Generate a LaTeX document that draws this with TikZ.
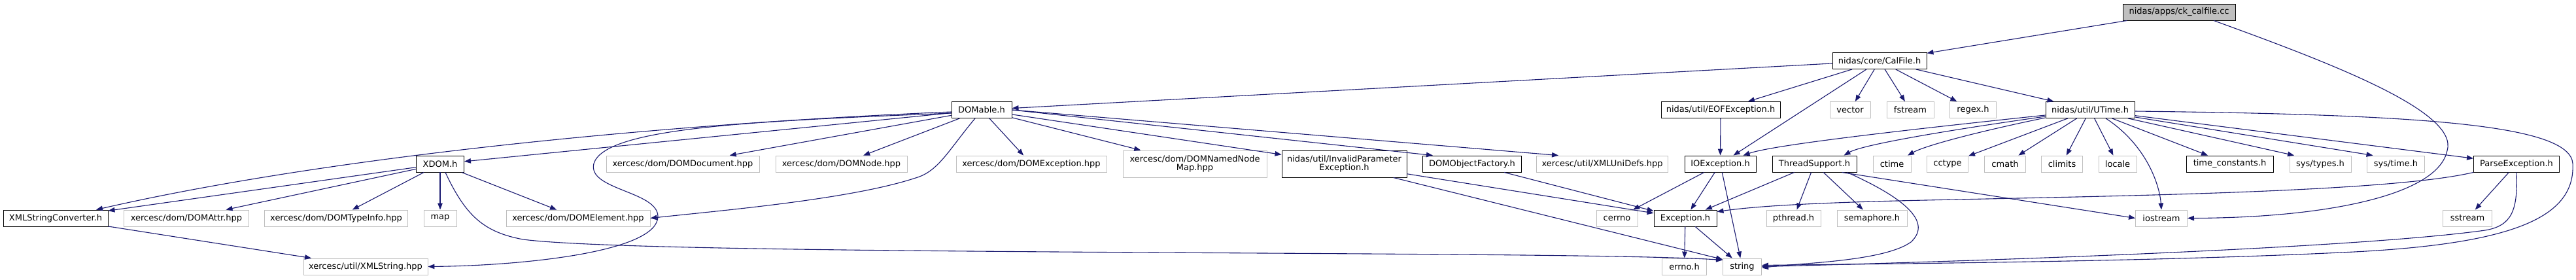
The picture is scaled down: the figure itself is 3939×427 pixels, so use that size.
\documentclass[tikz,border=0pt]{standalone}
\usepackage{fontspec}
\setmainfont{DejaVu Sans}
\usetikzlibrary{arrows.meta}
\definecolor{edgec}{HTML}{191970}
\definecolor{greyc}{HTML}{BFBFBF}
\tikzset{
  basebox/.style={line width=0.9bp, fill=white, minimum height=25bp, inner sep=0pt,
    font=\fontsize{13bp}{13.5bp}\selectfont, align=center},
  docbox/.style={basebox, draw=black},
  sysbox/.style={basebox, draw=greyc},
  rootbox/.style={basebox, draw=black, fill=greyc},
  edge/.style={draw=edgec, line width=1.1bp, -{Triangle[length=10bp,width=7.5bp]}},
}
\begin{document}
\begin{tikzpicture}[x=1bp,y=-1bp]
\useasboundingbox (0,0) rectangle (3939,427);
% row 0
\node[rootbox, minimum width=172bp] (ck) at (3332,18.5) {nidas/apps/ck\_calfile.cc};
% row 1
\node[docbox, minimum width=144bp] (calfile) at (2874,93) {nidas/core/CalFile.h};
% row 2
\node[docbox, minimum width=92bp] (domable) at (1501,168) {DOMable.h};
\node[docbox, minimum width=182bp] (eof) at (2631,168) {nidas/util/EOFException.h};
\node[sysbox, minimum width=62bp] (vector) at (2829,168) {vector};
\node[sysbox, minimum width=72bp] (fstream) at (2921,168) {fstream};
\node[sysbox, minimum width=71bp] (regex) at (3017,168) {regex.h};
\node[docbox, minimum width=136bp] (utime) at (3196,168) {nidas/util/UTime.h};
% row 3
\node[docbox, minimum width=73bp] (xdom) at (673,250.5) {XDOM.h};
\node[sysbox, minimum width=234bp] (domdoc) at (1044,250.5) {xercesc/dom/DOMDocument.hpp};
\node[sysbox, minimum width=201bp] (domnode) at (1286.5,250.5) {xercesc/dom/DOMNode.hpp};
\node[sysbox, minimum width=230bp] (domexc) at (1577,250.5) {xercesc/dom/DOMException.hpp};
\node[sysbox, minimum width=220bp, minimum height=41bp] (domnnm) at (1827,250.5) {xercesc/dom/DOMNamedNode\\Map.hpp};
\node[docbox, minimum width=191bp, minimum height=41bp] (invparam) at (2055.5,250.5) {nidas/util/InvalidParameter\\Exception.h};
\node[docbox, minimum width=151bp] (domobj) at (2251,250.5) {DOMObjectFactory.h};
\node[sysbox, minimum width=201bp] (xmluni) at (2450,250.5) {xercesc/util/XMLUniDefs.hpp};
\node[docbox, minimum width=109bp] (ioexc) at (2630.5,250.5) {IOException.h};
\node[docbox, minimum width=129bp] (thread) at (2774.5,250.5) {ThreadSupport.h};
\node[sysbox, minimum width=58bp] (ctime) at (2893,250.5) {ctime};
\node[sysbox, minimum width=63bp] (cctype) at (2978,250.5) {cctype};
\node[sysbox, minimum width=63bp] (cmath) at (3066,250.5) {cmath};
\node[sysbox, minimum width=63bp] (climits) at (3153,250.5) {climits};
\node[sysbox, minimum width=58bp] (locale) at (3238,250.5) {locale};
\node[docbox, minimum width=133bp] (timec) at (3409.5,250.5) {time\_constants.h};
\node[sysbox, minimum width=94bp] (systypes) at (3548,250.5) {sys/types.h};
\node[sysbox, minimum width=88bp] (systime) at (3663.5,250.5) {sys/time.h};
\node[docbox, minimum width=131bp] (parse) at (3848,250.5) {ParseException.h};
% row 4
\node[docbox, minimum width=160bp] (xmlsc) at (85,333.5) {XMLStringConverter.h};
\node[sysbox, minimum width=191bp] (domattr) at (285,333.5) {xercesc/dom/DOMAttr.hpp};
\node[sysbox, minimum width=219bp] (domtype) at (514,333.5) {xercesc/dom/DOMTypeInfo.hpp};
\node[sysbox, minimum width=50bp] (map) at (673,333.5) {map};
\node[sysbox, minimum width=220bp] (domelem) at (884,333.5) {xercesc/dom/DOMElement.hpp};
\node[sysbox, minimum width=63bp] (cerrno) at (2472.5,333.5) {cerrno};
\node[docbox, minimum width=96bp] (exc) at (2577,333.5) {Exception.h};
\node[sysbox, minimum width=83bp] (pthread) at (2742.5,333.5) {pthread.h};
\node[sysbox, minimum width=107bp] (sema) at (2862.5,333.5) {semaphore.h};
\node[sysbox, minimum width=79bp] (iostream) at (3305,333.5) {iostream};
\node[sysbox, minimum width=75bp] (sstream) at (3773,333.5) {sstream};
% row 5
\node[sysbox, minimum width=190bp] (xmlstr) at (559,407.5) {xercesc/util/XMLString.hpp};
\node[sysbox, minimum width=68bp] (errno) at (2575.5,407.5) {errno.h};
\node[sysbox, minimum width=59bp] (string) at (2664,407.5) {string};

% ck_calfile.cc
\draw[edge] (ck) -- (calfile);
\draw[edge] ([xshift=53bp]ck.south) .. controls (3560,95) and (3760,170) .. (3742,230)
  .. controls (3728,300) and (3550,333) .. (iostream.east);
% CalFile.h
\draw[edge] (calfile) -- (domable);
\draw[edge] (calfile) -- (eof);
\draw[edge] (calfile) -- (ioexc);
\draw[edge] (calfile) -- (vector);
\draw[edge] (calfile) -- (fstream);
\draw[edge] (calfile) -- (regex);
\draw[edge] (calfile) -- (utime);
% EOFException
\draw[edge] (eof) -- (ioexc);
% DOMable.h
\draw[edge] ([yshift=-3bp]domable.west) .. controls (1000,190) and (500,240) .. ([xshift=62bp]xmlsc.north);
\draw[edge] ([yshift=-5bp]domable.west) .. controls (1150,185) and (925,195) .. (908,250)
  .. controls (898,290) and (1004,292) .. (1006,330)
  .. controls (1008,385) and (800,406) .. (xmlstr.east);
\draw[edge] (domable) -- (xdom);
\draw[edge] (domable) -- (domdoc);
\draw[edge] (domable) -- (domnode);
\draw[edge] ([xshift=-10bp]domable.south) .. controls (1450,230) and (1435,262) .. (1400,272)
  .. controls (1300,305) and (1100,322) .. (domelem.east);
\draw[edge] (domable) -- (domexc);
\draw[edge] (domable) -- (domnnm);
\draw[edge] (domable) -- (invparam);
\draw[edge] (domable.east) -- ([xshift=-60bp]domobj.north);
\draw[edge] (domable.east) -- ([xshift=-67bp]xmluni.north);
% XDOM.h
\draw[edge] (xdom) -- (xmlsc);
\draw[edge] (xdom) -- (domattr);
\draw[edge] (xdom) -- (domtype);
\draw[edge] (xdom) -- (map);
\draw[edge] (xdom) -- (domelem);
\draw[edge] ([xshift=8bp]xdom.south) .. controls (712,330) and (740,355) .. (800,366)
  .. controls (1000,392) and (2400,382) .. ([yshift=10bp]string.west);
% XMLStringConverter.h
\draw[edge] (xmlsc) -- (xmlstr);
% InvalidParameterException.h
\draw[edge] (invparam) -- (exc);
\draw[edge] ([xshift=75bp]invparam.south) -- ([yshift=-2bp]string.north west);
% DOMObjectFactory.h
\draw[edge] ([xshift=49bp]domobj.south) -- ([yshift=-2bp]exc.north west);
% IOException.h
\draw[edge] (ioexc) -- (cerrno);
\draw[edge] (ioexc) -- (exc);
\draw[edge] (ioexc) -- (string);
% ThreadSupport.h
\draw[edge] (thread) -- (exc);
\draw[edge] (thread) -- (pthread);
\draw[edge] (thread) -- (sema);
\draw[edge] ([xshift=50bp]thread.south) .. controls (2895,295) and (2960,335) .. (2922,370)
  .. controls (2880,400) and (2750,402) .. ([yshift=-2bp]string.east);
\draw[edge] ([xshift=42bp]thread.south) -- (iostream.west);
% Exception.h
\draw[edge] (exc) -- (errno);
\draw[edge] (exc) -- (string);
% UTime.h
\draw[edge] ([yshift=-8bp]utime.west) .. controls (2900,200) and (2710,222) .. ([xshift=35bp]ioexc.north);
\draw[edge] ([yshift=-10bp]utime.west) .. controls (3000,196) and (2850,220) .. ([xshift=45bp]thread.north);
\draw[edge] ([yshift=-12bp]utime.west) .. controls (3030,200) and (2945,222) .. ([xshift=24bp]ctime.north);
\draw[edge] (utime) -- (cctype);
\draw[edge] (utime) -- (cmath);
\draw[edge] (utime) -- (climits);
\draw[edge] (utime) -- (locale);
\draw[edge] ([xshift=24bp]utime.south) .. controls (3280,220) and (3302,280) .. (iostream.north);
\draw[edge] (utime) -- (timec);
\draw[edge] (utime) -- ([xshift=-40bp]systypes.north);
\draw[edge] (utime) -- ([xshift=-35bp]systime.north);
\draw[edge] (utime) -- (parse);
\draw[edge] ([yshift=-2bp]utime.east) .. controls (3700,175) and (3930,190) .. (3934,250)
  .. controls (3938,330) and (3850,372) .. (3600,385)
  .. controls (3300,400) and (2900,403) .. ([yshift=2bp]string.east);
% ParseException.h
\draw[edge] (parse.south west) .. controls (3650,295) and (3200,300) .. (2900,307)
  .. controls (2750,311) and (2680,316) .. ([yshift=10bp]exc.east);
\draw[edge] (parse) -- (sstream);
\draw[edge] (parse.south) .. controls (3850,320) and (3842,345) .. (3800,352)
  .. controls (3600,380) and (3000,400) .. (string.east);
\end{tikzpicture}
\end{document}
